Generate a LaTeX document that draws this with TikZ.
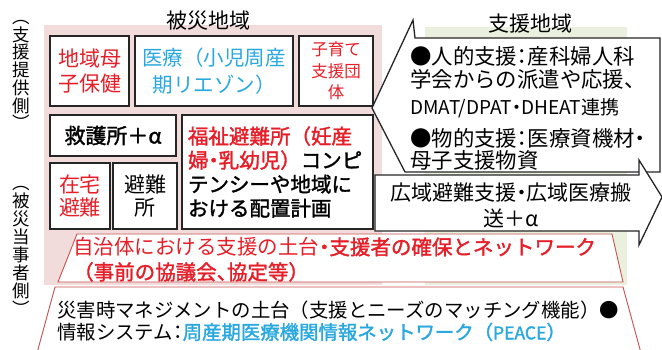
\documentclass[tikz,border=0pt]{standalone}
\usepackage{fontspec}
\setmainfont{Noto Sans CJK JP}[BoldFont={Noto Sans CJK JP}, BoldFeatures={FakeBold=1.6}]
\definecolor{jred}{RGB}{230,30,40}
\definecolor{jblue}{RGB}{41,168,224}
\definecolor{pinkbg}{RGB}{242,220,219}
\definecolor{greenbg}{RGB}{234,240,222}
\definecolor{trapred}{RGB}{200,80,77}
\newcommand\fsz[2]{\fontsize{#1}{#2}\selectfont}
\newcommand\hw[1]{{\addfontfeature{RawFeature=+halt}#1}}
\tikzset{
  box/.style={draw=black!85, line width=1.3pt, fill=white, inner sep=0pt, align=center},
  txt/.style={inner sep=0pt},
  shapeline/.style={draw=black!85, line width=1.3pt, fill=white, line join=miter},
  trap/.style={draw=trapred, line width=0.9pt, fill=white},
}
\begin{document}
\begin{tikzpicture}[x=1pt,y=-1pt]
\useasboundingbox[fill=white] (0,0) rectangle (662,350);
% backgrounds
\fill[pinkbg] (44,25) rectangle (382,285);
\fill[greenbg] (425,27) rectangle (627,285);
% titles
\node[txt, font=\fsz{21}{21}] (hisai) at (208,21) {被災地域};
\node[txt, font=\fsz{21}{21}] (shien) at (530,24) {支援地域};
% vertical side labels
\node[txt, align=center, font=\fsz{17.5}{17.7}] (teikyo) at (21,75) {︵\\支\\援\\提\\供\\側\\︶};
\node[txt, align=center, font=\fsz{17.5}{17.9}] (tojisha) at (21,251) {︵\\被\\災\\当\\事\\者\\側\\︶};
% disaster area boxes
\node[box, minimum width=79pt, minimum height=70pt, font=\fsz{21}{25}, text=jred] (hoken) at (89.5,71) {地域母\\子保健};
\node[box, minimum width=158pt, minimum height=70pt, font=\fsz{20.5}{27}, text=jblue] (iryo) at (214,71) {医療（小児周産\\期リエゾン）};
\node[box, minimum width=74pt, minimum height=70pt, font=\fsz{16.5}{21.5}, text=jred] (kosodate) at (336,71) {子育て\\支援団\\体};
\node[box, minimum width=126pt, minimum height=41pt, font=\bfseries\fsz{21}{25}] (kyugo) at (113,135.5) {救護所＋α};
\node[box, minimum width=191pt, minimum height=114pt, text width=179pt, align=left, font=\bfseries\fsz{20.5}{24}] (fukushi) at (277.5,172)
  {{\color{jred}福祉避難所（妊産}\\{\color{jred}婦\hw{・}乳幼児）}コンピ\\テンシーや地域に\\おける配置計画};
\node[box, minimum width=60pt, minimum height=66pt, font=\fsz{21}{23}, text=jred] (zaitaku) at (80,196) {在宅\\避難};
\node[box, minimum width=64pt, minimum height=66pt, font=\fsz{21}{23}] (hinanjo) at (145,196) {避難\\所};
% support area callout (points left)
\draw[shapeline] (660,38) -- (415,38) -- (413,20) -- (372,108) -- (405,172) -- (660,172) -- cycle;
\node[txt, anchor=west, font=\fsz{21.4}{21}] (c1) at (410,56) {●人的支援\hw{：}産科婦人科};
\node[txt, anchor=west, font=\fsz{21.4}{21}] (c2) at (410,79) {学会からの派遣や応援、};
\node[txt, anchor=west, font=\fsz{19}{19}] (c3) at (410,108) {DMAT/DPAT\hw{・}DHEAT連携};
\node[txt, anchor=west, font=\fsz{21.4}{21}] (c4) at (410,138) {●物的支援\hw{：}医療資機材\hw{・}};
\node[txt, anchor=west, font=\fsz{21.4}{21}] (c5) at (410,160) {母子支援物資};
% wide-area arrow (points right)
\draw[shapeline] (375,175) -- (639,175) -- (639,160) -- (662,197) -- (639,245) -- (639,231) -- (375,231) -- cycle;
\node[txt, align=center, font=\fsz{21}{26}] (kouiki) at (511,205) {広域避難支援\hw{・}広域医療搬\\送＋α};
% foundation trapezoids
\draw[trap] (77,234) -- (612,234) -- (623,282) -- (58,282) -- cycle;
\node[txt, anchor=west, align=left, font=\fsz{20.5}{25}, text=jred] (jichitai) at (73,259.5)
  {自治体における支援の土台{\bfseries \hw{・}支援者の確保とネットワーク}\\{\bfseries （事前の協議会\hw{、}協定等）}};
\draw[trap] (55,287) -- (623,287) -- (641,353) -- (37,353) -- cycle;
\node[txt, anchor=west, align=left, font=\fsz{19.4}{22}] (saigai) at (57,321)
  {災害時マネジメントの土台（支援とニーズのマッチング機能）●\\情報システム\hw{：}{\bfseries\color{jblue}周産期医療機関情報ネットワーク（{\fsz{17.5}{22}PEACE}）}};
\end{tikzpicture}
\end{document}
